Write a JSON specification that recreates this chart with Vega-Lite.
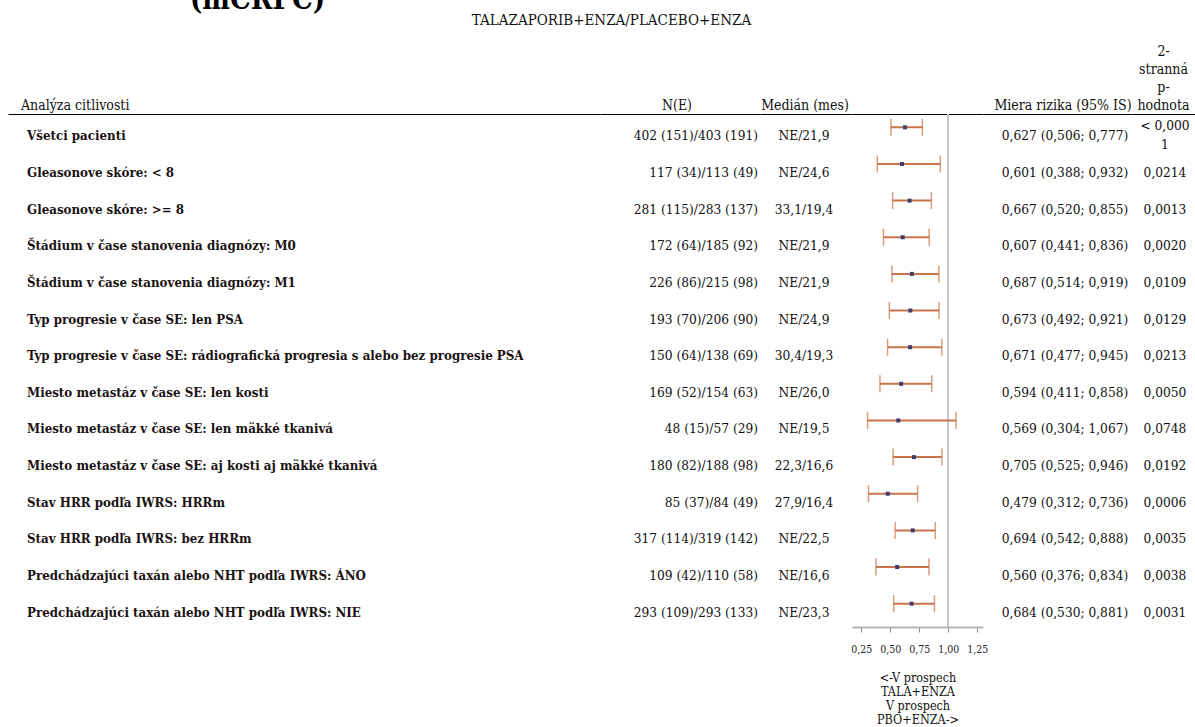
{
  "$schema": "https://vega.github.io/schema/vega-lite/v6.json",
  "padding": {"left": 8, "top": -14, "right": 0, "bottom": 0},
  "background": "white",
  "title": {"text": "(mCRPC)", "anchor": "start", "dx": 182, "fontSize": 29, "fontWeight": "bold", "font": "DejaVu Serif Condensed, DejaVu Serif", "color": "#000000", "baseline": "top", "offset": -2},
  "data": {"values": [
    {"label": "Všetci pacienti", "n": "402 (151)/403 (191)", "med": "NE/21,9", "hr": 0.627, "lo": 0.506, "hi": 0.777, "hrText": "0,627 (0,506; 0,777)", "p": "< 0,000\n1"},
    {"label": "Gleasonove skóre: < 8", "n": "117 (34)/113 (49)", "med": "NE/24,6", "hr": 0.601, "lo": 0.388, "hi": 0.932, "hrText": "0,601 (0,388; 0,932)", "p": "0,0214"},
    {"label": "Gleasonove skóre: >= 8", "n": "281 (115)/283 (137)", "med": "33,1/19,4", "hr": 0.667, "lo": 0.520, "hi": 0.855, "hrText": "0,667 (0,520; 0,855)", "p": "0,0013"},
    {"label": "Štádium v čase stanovenia diagnózy: M0", "n": "172 (64)/185 (92)", "med": "NE/21,9", "hr": 0.607, "lo": 0.441, "hi": 0.836, "hrText": "0,607 (0,441; 0,836)", "p": "0,0020"},
    {"label": "Štádium v čase stanovenia diagnózy: M1", "n": "226 (86)/215 (98)", "med": "NE/21,9", "hr": 0.687, "lo": 0.514, "hi": 0.919, "hrText": "0,687 (0,514; 0,919)", "p": "0,0109"},
    {"label": "Typ progresie v čase SE: len PSA", "n": "193 (70)/206 (90)", "med": "NE/24,9", "hr": 0.673, "lo": 0.492, "hi": 0.921, "hrText": "0,673 (0,492; 0,921)", "p": "0,0129"},
    {"label": "Typ progresie v čase SE: rádiografická progresia s alebo bez progresie PSA", "n": "150 (64)/138 (69)", "med": "30,4/19,3", "hr": 0.671, "lo": 0.477, "hi": 0.945, "hrText": "0,671 (0,477; 0,945)", "p": "0,0213"},
    {"label": "Miesto metastáz v čase SE: len kosti", "n": "169 (52)/154 (63)", "med": "NE/26,0", "hr": 0.594, "lo": 0.411, "hi": 0.858, "hrText": "0,594 (0,411; 0,858)", "p": "0,0050"},
    {"label": "Miesto metastáz v čase SE: len mäkké tkanivá", "n": "48 (15)/57 (29)", "med": "NE/19,5", "hr": 0.569, "lo": 0.304, "hi": 1.067, "hrText": "0,569 (0,304; 1,067)", "p": "0,0748"},
    {"label": "Miesto metastáz v čase SE: aj kosti aj mäkké tkanivá", "n": "180 (82)/188 (98)", "med": "22,3/16,6", "hr": 0.705, "lo": 0.525, "hi": 0.946, "hrText": "0,705 (0,525; 0,946)", "p": "0,0192"},
    {"label": "Stav HRR podľa IWRS: HRRm", "n": "85 (37)/84 (49)", "med": "27,9/16,4", "hr": 0.479, "lo": 0.312, "hi": 0.736, "hrText": "0,479 (0,312; 0,736)", "p": "0,0006"},
    {"label": "Stav HRR podľa IWRS: bez HRRm", "n": "317 (114)/319 (142)", "med": "NE/22,5", "hr": 0.694, "lo": 0.542, "hi": 0.888, "hrText": "0,694 (0,542; 0,888)", "p": "0,0035"},
    {"label": "Predchádzajúci taxán alebo NHT podľa IWRS: ÁNO", "n": "109 (42)/110 (58)", "med": "NE/16,6", "hr": 0.560, "lo": 0.376, "hi": 0.834, "hrText": "0,560 (0,376; 0,834)", "p": "0,0038"},
    {"label": "Predchádzajúci taxán alebo NHT podľa IWRS: NIE", "n": "293 (109)/293 (133)", "med": "NE/23,3", "hr": 0.684, "lo": 0.530, "hi": 0.881, "hrText": "0,684 (0,530; 0,881)", "p": "0,0031"}
  ]},
  "spacing": 0,
  "vconcat": [
    {
      "title": {"text": "TALAZAPORIB+ENZA/PLACEBO+ENZA", "anchor": "middle", "dx": 10, "fontSize": 15, "fontWeight": "normal", "baseline": "top", "offset": 17, "color": "#111111"},
      "spacing": 0,
      "bounds": "flush",
      "hconcat": [
        {
          "width": 592, "height": 513,
          "title": {"text": "Analýza citlivosti", "anchor": "start", "dx": 13},
          "mark": {"type": "text", "align": "left", "baseline": "middle", "fontWeight": "bold", "fontSize": 13.2, "dx": 19, "dy": 4, "color": "#1a1212"},
          "encoding": {
            "x": {"datum": 0, "type": "quantitative", "scale": {"domain": [0, 1]}, "axis": {"orient": "top", "labels": false, "ticks": false, "grid": false, "title": null, "domain": true, "domainColor": "#000000", "domainWidth": 1.2}},
            "y": {"field": "label", "type": "nominal", "sort": null, "axis": null},
            "text": {"field": "label"}
          }
        },
        {
          "width": 160, "height": 513,
          "title": {"text": "N(E)", "anchor": "middle", "dx": -3},
          "mark": {"type": "text", "align": "right", "baseline": "middle", "fontSize": 13.6, "dx": -2, "dy": 4, "color": "#111111"},
          "encoding": {
            "x": {"datum": 1, "type": "quantitative", "scale": {"domain": [0, 1]}, "axis": {"orient": "top", "labels": false, "ticks": false, "grid": false, "title": null, "domain": true, "domainColor": "#000000", "domainWidth": 1.2}},
            "y": {"field": "label", "type": "nominal", "sort": null, "axis": null},
            "text": {"field": "n"}
          }
        },
        {
          "width": 92, "height": 513,
          "title": {"text": "Medián (mes)", "anchor": "middle", "dx": -1},
          "mark": {"type": "text", "align": "center", "baseline": "middle", "fontSize": 13.6, "dx": -2, "dy": 4, "color": "#111111"},
          "encoding": {
            "x": {"datum": 0.5, "type": "quantitative", "scale": {"domain": [0, 1]}, "axis": {"orient": "top", "labels": false, "ticks": false, "grid": false, "title": null, "domain": true, "domainColor": "#000000", "domainWidth": 1.2}},
            "y": {"field": "label", "type": "nominal", "sort": null, "axis": null},
            "text": {"field": "med"}
          }
        },
        {
          "width": 131, "height": 513,
          "layer": [
            {
              "mark": {"type": "rule", "color": "#c8c8c8", "strokeWidth": 1.5},
              "encoding": {
                "x": {"datum": 1, "type": "quantitative", "scale": {"domain": [0.17, 1.3], "nice": false, "zero": false}, "axis": {"orient": "top", "labels": false, "ticks": false, "grid": false, "title": null, "domain": true, "domainColor": "#000000", "domainWidth": 1.2}}
              }
            },
            {
              "mark": {"type": "rule", "color": "#c9754c", "strokeWidth": 2, "yOffset": -5},
              "encoding": {
                "x": {"field": "lo", "type": "quantitative", "axis": {"orient": "bottom", "values": [0.25, 0.5, 0.75, 1, 1.25], "labelExpr": "replace(format(datum.value, '.2f'), '.', ',')", "grid": false, "domainColor": "#b5b5b5", "domainWidth": 2, "tickColor": "#8a8a8a", "tickSize": 5, "tickWidth": 1, "labelFontSize": 10.5, "labelColor": "#222222", "labelPadding": 12, "title": ["<-V prospech", "TALA+ENZA", "V prospech", "PBO+ENZA->"], "titleFontSize": 12.5, "titleFontWeight": "normal", "titleColor": "#111111", "titleLineHeight": 14, "titlePadding": 17}},
                "x2": {"field": "hi"},
                "y": {"field": "label", "type": "nominal", "sort": null, "axis": null}
              }
            },
            {
              "mark": {"type": "tick", "color": "#c9754c", "size": 17, "thickness": 1.5, "yOffset": -5},
              "encoding": {
                "x": {"field": "lo", "type": "quantitative", "axis": null},
                "y": {"field": "label", "type": "nominal", "sort": null, "axis": null}
              }
            },
            {
              "mark": {"type": "tick", "color": "#c9754c", "size": 17, "thickness": 1.5, "yOffset": -5},
              "encoding": {
                "x": {"field": "hi", "type": "quantitative", "axis": null},
                "y": {"field": "label", "type": "nominal", "sort": null, "axis": null}
              }
            },
            {
              "mark": {"type": "square", "color": "#3d3d6b", "size": 16, "opacity": 1, "yOffset": -5},
              "encoding": {
                "x": {"field": "hr", "type": "quantitative", "axis": null},
                "y": {"field": "label", "type": "nominal", "sort": null, "axis": null}
              }
            }
          ],
          "resolve": {"axis": {"x": "independent"}}
        },
        {
          "width": 149, "height": 513,
          "title": {"text": "Miera rizika (95% IS)", "anchor": "middle", "dx": 5.5},
          "mark": {"type": "text", "align": "center", "baseline": "middle", "fontSize": 13.6, "dx": 7.5, "dy": 4, "color": "#111111"},
          "encoding": {
            "x": {"datum": 0.5, "type": "quantitative", "scale": {"domain": [0, 1]}, "axis": {"orient": "top", "labels": false, "ticks": false, "grid": false, "title": null, "domain": true, "domainColor": "#000000", "domainWidth": 1.2}},
            "y": {"field": "label", "type": "nominal", "sort": null, "axis": null},
            "text": {"field": "hrText"}
          }
        },
        {
          "width": 63, "height": 513,
          "title": {"text": ["2-", "stranná", "p-", "hodnota"], "anchor": "middle", "lineHeight": 18},
          "layer": [
            {
              "mark": {"type": "text", "align": "center", "baseline": "middle", "fontSize": 13.6, "dx": 1.5, "dy": 4, "color": "#111111"},
              "encoding": {
                "x": {"datum": 0.5, "type": "quantitative", "scale": {"domain": [0, 1]}, "axis": {"orient": "top", "labels": false, "ticks": false, "grid": false, "title": null, "domain": true, "domainColor": "#000000", "domainWidth": 1.2}},
                "y": {"field": "label", "type": "nominal", "sort": null, "axis": null},
                "text": {"field": "p", "condition": {"test": "indexof(datum.p, '\\n') >= 0", "value": ""}}
              }
            },
            {
              "mark": {"type": "text", "align": "center", "baseline": "middle", "fontSize": 13.6, "dx": 1.5, "dy": -6, "lineBreak": "\n", "lineHeight": 19, "color": "#111111"},
              "encoding": {
                "x": {"datum": 0.5, "type": "quantitative"},
                "y": {"field": "label", "type": "nominal", "sort": null, "axis": null},
                "text": {"value": "", "condition": {"test": "indexof(datum.p, '\\n') >= 0", "field": "p"}}
              }
            }
          ]
        }
      ]
    }
  ],
  "config": {
    "font": "DejaVu Serif Condensed, DejaVu Serif",
    "view": {"stroke": null},
    "title": {"font": "DejaVu Serif Condensed, DejaVu Serif", "fontSize": 14, "fontWeight": "normal", "color": "#111111", "baseline": "bottom", "offset": 1},
    "text": {"font": "DejaVu Serif Condensed, DejaVu Serif"},
    "axis": {"labelFont": "DejaVu Serif Condensed, DejaVu Serif", "titleFont": "DejaVu Serif Condensed, DejaVu Serif"}
  }
}
